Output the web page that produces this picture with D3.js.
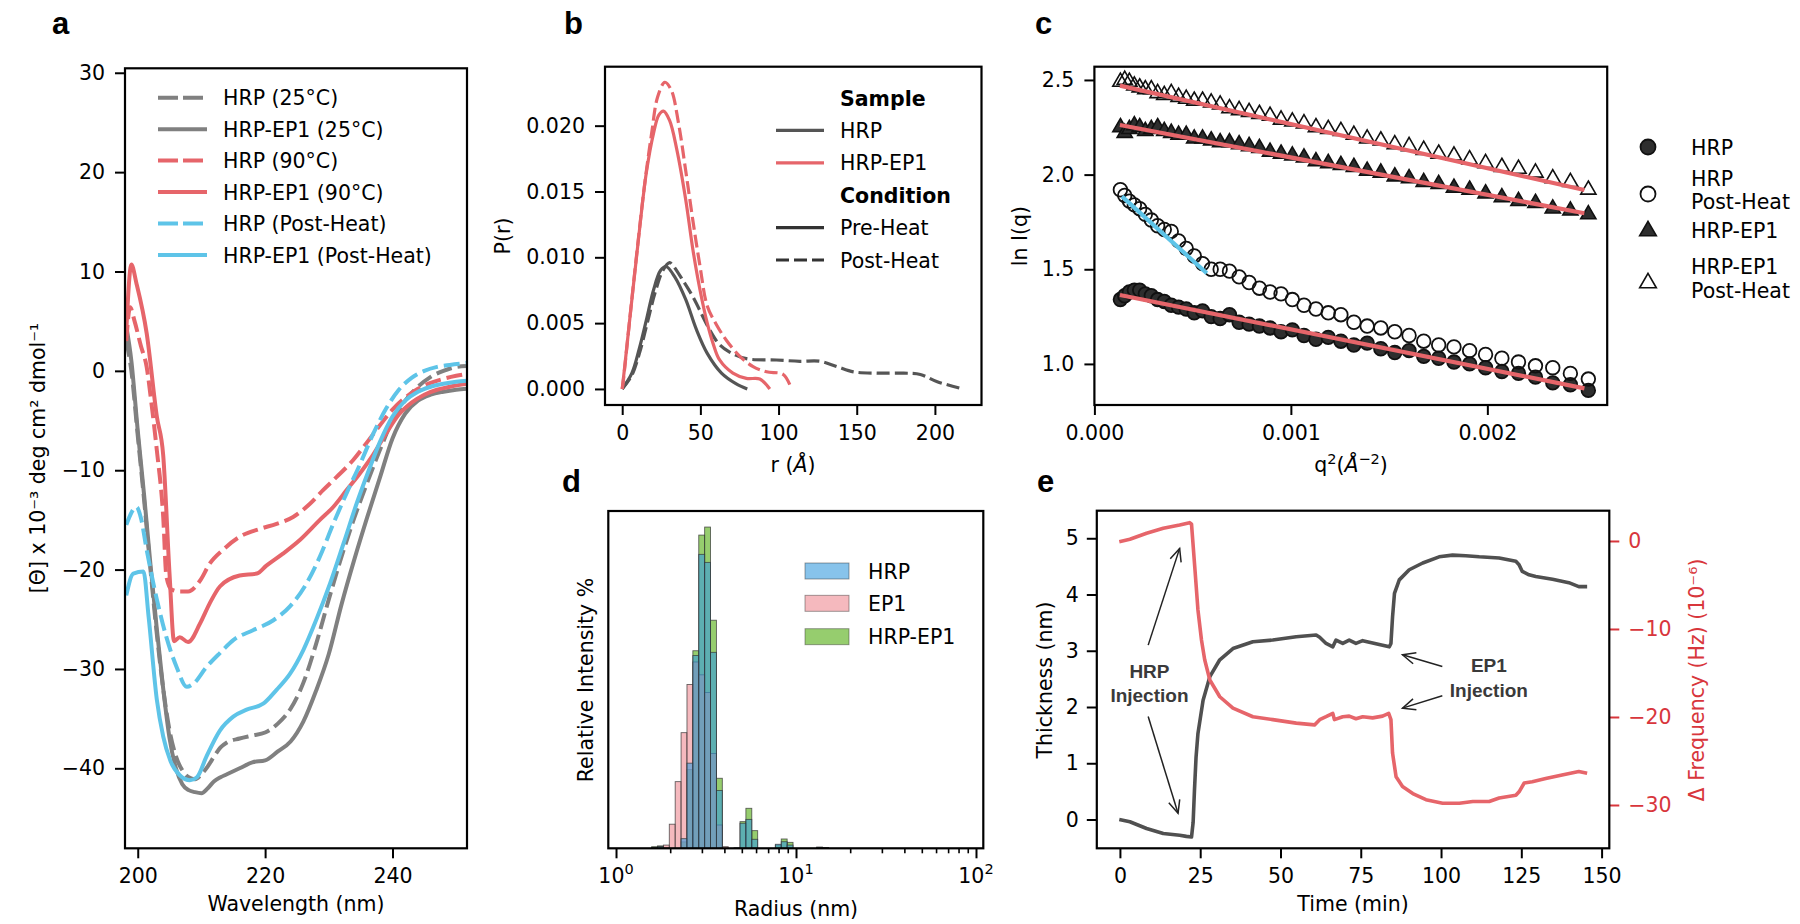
<!DOCTYPE html>
<html><head><meta charset="utf-8">
<script src="https://cdn.jsdelivr.net/npm/d3@7"></script>
<style>
body{margin:0;background:#fff;}
svg{display:block;}
</style></head><body>
<svg id="fig" width="1800" height="924"></svg>
<script>
// ================= DATA =================
// Panel a: CD spectra [wavelength nm, [Θ] x10^-3]
const cdHRP25 = [[198.2,3],[199,0],[200,-6.5],[201,-13],[202,-20],[203,-26.5],[204,-32],[205,-36.2],[206,-38.8],[207,-40.2],[208,-40.9],[209,-41.1],[210,-40.6],[211,-39.8],[212,-38.8],[213,-37.9],[214,-37.4],[216,-37.0],[218,-36.7],[220,-36.4],[222,-35.5],[224,-34.0],[226,-31.4],[228,-27.5],[230,-23],[232,-18.7],[234,-14.8],[236,-11.3],[238,-8.0],[240,-5.0],[242,-3.0],[244,-1.6],[246,-0.6],[248,0],[250,0.4],[251.7,0.5]];
const cdEP125 = [[198.2,4.5],[199,1],[200,-6],[201,-12.5],[202,-19.5],[203,-26],[204,-32],[205,-37],[206,-40],[207,-41.6],[208,-42.2],[209,-42.4],[210,-42.5],[211,-42],[212,-41.3],[213,-40.9],[214,-40.6],[216,-40],[218,-39.4],[220,-39.2],[222,-38.3],[224,-37.3],[226,-35.3],[228,-32.2],[230,-28.5],[232,-23.5],[234,-19],[236,-14.8],[238,-10.8],[240,-6.8],[242,-4.3],[244,-3.0],[246,-2.4],[248,-2.1],[250,-1.9],[251.7,-1.8]];
const cdHRP90 = [[198.2,3],[198.8,6.4],[199.5,5],[200.5,2.5],[201.4,0.4],[202.2,-3.5],[203,-8],[204,-14.7],[204.5,-20.7],[205.3,-22],[206.6,-22.2],[207.9,-22.2],[209.8,-21.1],[211.3,-19.4],[213.4,-18.0],[216,-16.7],[219.2,-15.9],[221.8,-15.4],[224.4,-14.7],[227,-13.4],[229.1,-12],[231.2,-10.7],[233.8,-9],[236,-7.2],[238,-5.5],[240,-3.9],[242,-2.7],[244,-1.8],[246,-1.2],[248,-0.8],[250,-0.5],[251.7,-0.3]];
const cdEP190 = [[198.2,4],[199,10.7],[199.8,8.8],[201.4,3.8],[203,-4.6],[204,-8.5],[205,-20.5],[205.7,-27.2],[206.6,-26.8],[207.9,-27.3],[209.8,-25.4],[211.3,-23.4],[212.9,-21.7],[216,-20.6],[218.7,-20.4],[220.2,-19.6],[222.8,-18.4],[225.5,-17],[228.6,-15],[230.7,-13.7],[232.8,-12],[234.9,-10.3],[237,-8.4],[239,-6.3],[241,-4.4],[243,-3.2],[245,-2.4],[247,-1.9],[249,-1.6],[251.7,-1.3]];
const cdHRPPH = [[198.2,-15.5],[198.5,-15],[199.8,-13.7],[200.5,-14.8],[201.4,-18],[203,-23],[204.5,-26.8],[206.1,-29.8],[207.7,-31.8],[208.7,-31.5],[210.8,-29.8],[212.9,-28.4],[215,-27.1],[218.1,-26.1],[221.3,-25.1],[223.9,-23.7],[226.5,-21.4],[228.6,-18.7],[230.7,-15.4],[232.8,-12.3],[234.9,-9.4],[237,-6.3],[239,-3.8],[241,-1.9],[243,-0.7],[245,0.0],[247,0.4],[249,0.6],[251.7,0.8]];
const cdEP1PH = [[198.2,-22.6],[199.3,-20.4],[200.9,-20.2],[201.7,-24.7],[203,-33.1],[204,-36.8],[205.1,-39.2],[206.6,-40.7],[208.2,-41.2],[209.3,-40.9],[210.8,-38.8],[212.9,-36.2],[215,-34.8],[217.1,-34.1],[219.7,-33.5],[221.8,-32.1],[223.9,-30.5],[226,-28.1],[228,-25.1],[230.2,-21.4],[232.3,-17.4],[234.4,-13.3],[236.4,-9.8],[238,-7.2],[240,-4.6],[242,-3.0],[244,-2.1],[246,-1.6],[248,-1.3],[250,-1.1],[251.7,-1.0]];
const cdLabels = ["HRP (25°C)","HRP-EP1 (25°C)","HRP (90°C)","HRP-EP1 (90°C)","HRP (Post-Heat)","HRP-EP1 (Post-Heat)"];
const cdTicksX = [200,220,240];
const cdTicksY = [-40,-30,-20,-10,0,10,20,30];

// Panel b: P(r) [r Å, P]
const prHRPPre = [[0,0],[6.2,0.0012],[10.8,0.003],[15.4,0.0052],[20,0.0075],[24.5,0.009],[28,0.0093],[33.7,0.0085],[40.6,0.0068],[47.5,0.0045],[54.4,0.0027],[63.5,0.0012],[72.7,0.0004],[80,0.0]];
const prHRPPost = [[0,0],[6,0.001],[11,0.0027],[16,0.005],[21,0.0073],[26,0.009],[30.3,0.0096],[32.3,0.0094],[38,0.0084],[45.2,0.007],[55.9,0.0045],[62,0.0034],[68.7,0.0028],[79.4,0.0023],[98.7,0.0022],[113.7,0.0021],[126.5,0.0021],[137.3,0.0017],[147.9,0.0013],[162.9,0.0012],[180,0.0012],[190.7,0.0011],[201.5,0.00055],[218,0.0]];
const prEP1Pre = [[0,0],[1.6,0.0017],[6.2,0.0068],[10.8,0.0118],[15.4,0.0164],[20,0.0194],[23.4,0.0208],[26.4,0.0211],[30.3,0.0204],[34.9,0.0182],[40.6,0.0144],[45.2,0.0106],[49.8,0.0075],[54.4,0.005],[58,0.0035],[62.3,0.0022],[70.8,0.0012],[79.4,0.0008],[88,0.00075],[94.4,0.0]];
const prEP1Post = [[0,0],[0.5,0.0004],[5,0.0055],[9.6,0.0106],[14.2,0.0154],[18.8,0.0194],[22.7,0.0222],[27.3,0.0233],[31.4,0.0227],[36,0.0202],[40.6,0.0166],[45.2,0.0128],[49.8,0.0093],[54.4,0.0063],[60.2,0.0049],[66.6,0.0037],[75.1,0.0025],[83.7,0.0017],[92.3,0.0013],[103,0.0011],[108.3,0.0]];
const prTicksX = [0,50,100,150,200];
const prTicksY = [0,0.005,0.010,0.015,0.020];

// Panel c: Guinier plot
const q2 = [0.0001323,0.0001543,0.0001780,0.0002033,0.0002304,0.0002592,0.0002897,0.0003218,0.0003557,0.0003912,0.0004285,0.0004674,0.0005081,0.0005504,0.0005944,0.0006401,0.0006875,0.0007366,0.0007874,0.0008398,0.0008940,0.0009499,0.0010074,0.0010667,0.0011276,0.0011903,0.0012546,0.0013206,0.0013883,0.0014577,0.0015288,0.0016016,0.0016761,0.0017523,0.0018301,0.0019097,0.0019909,0.0020739,0.0021585,0.0022449,0.0023329,0.0024226,0.0025140];
const lnHRP = [1.34,1.36,1.38,1.39,1.39,1.37,1.36,1.34,1.33,1.31,1.30,1.29,1.27,1.28,1.25,1.24,1.26,1.22,1.21,1.20,1.19,1.17,1.18,1.15,1.13,1.14,1.12,1.10,1.11,1.08,1.06,1.07,1.04,1.03,1.01,1.00,0.98,0.96,0.95,0.93,0.90,0.89,0.86];
const lnHRPPost = [1.92,1.89,1.86,1.84,1.82,1.79,1.76,1.73,1.71,1.70,1.65,1.61,1.57,1.53,1.50,1.50,1.49,1.46,1.43,1.40,1.38,1.37,1.34,1.31,1.29,1.27,1.26,1.22,1.20,1.19,1.17,1.15,1.12,1.10,1.09,1.07,1.05,1.03,1.01,0.99,0.98,0.95,0.92];
const lnEP1 = [2.25,2.22,2.24,2.26,2.25,2.23,2.24,2.25,2.23,2.22,2.21,2.21,2.19,2.19,2.18,2.17,2.17,2.16,2.15,2.14,2.12,2.11,2.10,2.09,2.07,2.06,2.05,2.04,2.02,2.01,1.99,1.98,1.96,1.95,1.93,1.92,1.90,1.88,1.86,1.85,1.82,1.81,1.79];
const lnEP1Post = [2.49,2.50,2.49,2.47,2.46,2.45,2.45,2.43,2.42,2.43,2.41,2.40,2.39,2.39,2.38,2.37,2.35,2.34,2.33,2.32,2.31,2.29,2.28,2.27,2.25,2.24,2.23,2.21,2.19,2.18,2.16,2.15,2.13,2.11,2.10,2.08,2.06,2.04,2.03,2.01,1.98,1.96,1.92];
const fitHRP = [[0.00013,1.364],[0.002494,0.871]];
const fitEP1 = [[0.00013,2.262],[0.002494,1.796]];
const fitEP1Post = [[0.00013,2.470],[0.002494,1.919]];
const fitHRPPost = [[0.000140,1.885],[0.000572,1.479]];
const gTicksX = [0.000,0.001,0.002];
const gTicksY = [1.0,1.5,2.0,2.5];

// Panel d: DLS histogram (bin edges in nm, relative intensity %)
const binEdges = [1.5769,1.7003,1.8334,1.9770,2.1318,2.2987,2.4787,2.6727,2.8820,3.1076,3.3510,3.6133,3.8962,4.2013,4.5302,4.8849,5.2674,5.6798,6.1245,6.6040,7.1211,7.6787,8.2799,8.9282,9.6272,10.381,11.194,12.070,13.015,14.034,15.183,16.362];
const histHRP = [0.05,0.1,0,0,0,0.6,5.3,12.0,18.3,17.8,12.2,3.6,0,0,0.02,1.56,1.8,0.56,0,0,0,0.25,0.41,0.2,0,0,0,0,0.05,0.03,0];
const histEP1 = [0,0.1,0.2,1.5,4.15,7.2,10.2,11.6,10.8,9.7,5.9,1.45,0.1,0,0,0,0,0,0,0,0,0,0,0,0,0,0,0,0,0,0];
const histHRPEP1 = [0.1,0.15,0.05,0,0,0.4,4.9,12.3,19.5,20.0,14.2,4.36,0,0,0.02,1.66,2.49,1.1,0,0,0,0.2,0.58,0.37,0,0,0,0,0.08,0.05,0];
const dlsLabels = ["HRP","EP1","HRP-EP1"];

// Panel e: QCM-D [time min, value]
const thickness = [[-0.2,0.0],[3.1,-0.04],[8.3,-0.16],[13.5,-0.25],[18.6,-0.28],[20.7,-0.30],[22.3,-0.31],[22.8,-0.05],[23.2,0.5],[23.7,1.1],[24.3,1.53],[25.9,2.12],[28,2.54],[31.1,2.84],[35.2,3.04],[41.4,3.16],[47.6,3.19],[54.9,3.25],[61.1,3.28],[62.2,3.24],[64.2,3.13],[66.3,3.07],[67.3,3.19],[69.4,3.13],[71.4,3.19],[73.5,3.13],[75.6,3.18],[78.7,3.14],[81.8,3.10],[83.9,3.07],[84.4,3.13],[84.9,3.6],[85.5,4.02],[87,4.26],[90.1,4.44],[94.3,4.56],[99.4,4.67],[103.6,4.70],[107.7,4.69],[111.9,4.67],[118.1,4.65],[123.3,4.59],[124.3,4.53],[125.3,4.41],[127.4,4.35],[129.5,4.32],[134.7,4.27],[139.8,4.21],[142.9,4.14],[145.5,4.14]];
const dFreq = [[-0.2,-0.08],[3.1,0.19],[8.3,0.87],[13.5,1.44],[18.6,1.82],[21.7,2.08],[22.3,1.9],[23.3,-2.92],[24.3,-7.84],[25.4,-11.25],[26.4,-13.5],[28,-15.8],[31.1,-17.7],[35.2,-19.0],[41.4,-19.97],[47.6,-20.3],[54.9,-20.7],[60.6,-20.9],[62.2,-20.3],[64.2,-19.97],[66.3,-19.6],[66.8,-20.3],[69.4,-19.97],[71.4,-19.9],[73.5,-20.2],[75.6,-19.97],[78.7,-20.1],[81.8,-19.9],[83.7,-19.6],[84.4,-20.3],[84.9,-24.1],[86,-26.8],[88,-27.9],[91.2,-28.7],[95.3,-29.4],[100.5,-29.8],[105.7,-29.8],[109.9,-29.6],[115,-29.6],[118.1,-29.2],[123.3,-28.9],[124.3,-28.5],[125.9,-27.5],[128.4,-27.35],[132.6,-27.0],[137.7,-26.6],[142.9,-26.2],[145.5,-26.4]];
const qTicksX = [0,25,50,75,100,125,150];
const qTicksL = [0,1,2,3,4,5];
const qTicksR = [0,-10,-20,-30];

// ================= DRAWING =================
const svg = d3.select("#fig");
const FONT = "'DejaVu Sans', sans-serif";
const FS = 20.5;
const RED = "#e6656a", GRAY = "#808080", BLUE = "#5ec4e8", DARK = "#555555";
const TXTRED = "#d8363c";
svg.append("rect").attr("width",1800).attr("height",924).attr("fill","#fff");
const defs = svg.append("defs");

function clipRect(id,x0,y0,x1,y1){
  defs.append("clipPath").attr("id",id).append("rect").attr("x",x0).attr("y",y0).attr("width",x1-x0).attr("height",y1-y0);
  return `url(#${id})`;
}
function frame(x0,y0,x1,y1){
  svg.append("rect").attr("x",x0).attr("y",y0).attr("width",x1-x0).attr("height",y1-y0)
    .attr("fill","none").attr("stroke","#000").attr("stroke-width",2.2);
}
function styleAxis(g,color){
  color = color || "#000";
  g.attr("font-family",FONT).attr("font-size",FS);
  g.select(".domain").remove();
  g.selectAll(".tick line").attr("stroke",color).attr("stroke-width",2);
  g.selectAll(".tick text").attr("fill",color);
  return g;
}
function text(x,y,s,opts){
  opts = opts||{};
  const t = svg.append("text").attr("x",x).attr("y",y).text(s)
    .attr("font-family",opts.family||FONT).attr("font-size",opts.size||FS)
    .attr("fill",opts.fill||"#000").attr("text-anchor",opts.anchor||"start");
  if(opts.weight) t.attr("font-weight",opts.weight);
  if(opts.rotate) t.attr("transform",`rotate(-90,${x},${y})`);
  return t;
}
function panelLabel(x,y,s){ text(x,y,s,{family:"'Liberation Sans', Arial, sans-serif",size:31,weight:700}); }

// ---------- Panel a ----------
{
  const A = {x0:125,x1:467,y0:68.3,y1:848.3};
  const x = d3.scaleLinear().domain([198.0,251.7]).range([A.x0,A.x1]);
  const y = d3.scaleLinear().domain([-48.05,30.45]).range([A.y1,A.y0]);
  const cp = clipRect("clipA",A.x0,A.y0,A.x1,A.y1);
  const line = d3.line().x(d=>x(d[0])).y(d=>y(d[1])).curve(d3.curveMonotoneX);
  const series = [
    {d:cdHRP25,c:GRAY,dash:"16,6"},{d:cdEP125,c:GRAY,dash:null},
    {d:cdHRP90,c:RED,dash:"16,6"},{d:cdEP190,c:RED,dash:null},
    {d:cdHRPPH,c:BLUE,dash:"16,6"},{d:cdEP1PH,c:BLUE,dash:null}];
  const g = svg.append("g").attr("clip-path",cp);
  series.forEach(s=>{
    g.append("path").attr("d",line(s.d)).attr("fill","none").attr("stroke",s.c)
      .attr("stroke-width",4).attr("stroke-dasharray",s.dash).attr("stroke-linejoin","round");
  });
  styleAxis(svg.append("g").attr("transform",`translate(0,${A.y1})`)
    .call(d3.axisBottom(x).tickValues(cdTicksX).tickSize(10).tickPadding(10).tickFormat(d3.format("d"))));
  styleAxis(svg.append("g").attr("transform",`translate(${A.x0},0)`)
    .call(d3.axisLeft(y).tickValues(cdTicksY).tickSize(10).tickPadding(10).tickFormat(d3.format("d"))));
  frame(A.x0,A.y0,A.x1,A.y1);
  series.forEach((s,i)=>{
    const yy = 97.7 + i*31.46;
    svg.append("line").attr("x1",158).attr("x2",207).attr("y1",yy).attr("y2",yy)
      .attr("stroke",s.c).attr("stroke-width",4).attr("stroke-dasharray",s.dash?"20,5":null);
    text(223,yy+7.5,cdLabels[i]);
  });
  text(296,911,"Wavelength (nm)",{anchor:"middle"});
  text(45,458,"[Θ] x 10⁻³ deg cm² dmol⁻¹",{anchor:"middle",rotate:true});
  panelLabel(52,34,"a");
}

// ---------- Panel b ----------
{
  const B = {x0:605,x1:981.5,y0:66.7,y1:405};
  const x = d3.scaleLinear().domain([-11,229.8]).range([B.x0,B.x1]);
  const y = d3.scaleLinear().domain([-0.00122,0.02448]).range([B.y1,B.y0]);
  const cp = clipRect("clipB",B.x0,B.y0,B.x1,B.y1);
  const line = d3.line().x(d=>x(d[0])).y(d=>y(d[1])).curve(d3.curveCatmullRom.alpha(0.5));
  const g = svg.append("g").attr("clip-path",cp);
  [{d:prHRPPre,c:DARK,dash:null},{d:prHRPPost,c:DARK,dash:"13,5"},
   {d:prEP1Pre,c:RED,dash:null},{d:prEP1Post,c:RED,dash:"13,5"}].forEach(s=>{
    g.append("path").attr("d",line(s.d)).attr("fill","none").attr("stroke",s.c)
      .attr("stroke-width",3.2).attr("stroke-dasharray",s.dash).attr("stroke-linejoin","round");
  });
  styleAxis(svg.append("g").attr("transform",`translate(0,${B.y1})`)
    .call(d3.axisBottom(x).tickValues(prTicksX).tickSize(10).tickPadding(10).tickFormat(d3.format("d"))));
  styleAxis(svg.append("g").attr("transform",`translate(${B.x0},0)`)
    .call(d3.axisLeft(y).tickValues(prTicksY).tickSize(10).tickPadding(10).tickFormat(d3.format(".3f"))));
  frame(B.x0,B.y0,B.x1,B.y1);
  const leg = [
    {t:"Sample",bold:true},{t:"HRP",c:DARK},{t:"HRP-EP1",c:RED},
    {t:"Condition",bold:true},{t:"Pre-Heat",c:"#333"},{t:"Post-Heat",c:"#333",dash:"13,5"}];
  leg.forEach((l,i)=>{
    const yy = 98 + i*32.4;
    if(!l.bold){
      svg.append("line").attr("x1",776).attr("x2",824).attr("y1",yy).attr("y2",yy)
        .attr("stroke",l.c).attr("stroke-width",3.2).attr("stroke-dasharray",l.dash||null);
    }
    text(840,yy+7.5,l.t,{weight:l.bold?"bold":null});
  });
  const xl = text(793,472,"r (",{anchor:"middle"});
  xl.append("tspan").attr("font-style","italic").text("Å");
  xl.append("tspan").text(")");
  text(510,236,"P(r)",{anchor:"middle",rotate:true});
  panelLabel(564,34,"b");
}

// ---------- Panel c ----------
{
  const C = {x0:1094.4,x1:1607.2,y0:66.7,y1:405};
  const x = d3.scaleLinear().domain([0,0.00261]).range([C.x0,C.x1]);
  const y = d3.scaleLinear().domain([0.783,2.570]).range([C.y1,C.y0]);
  const cp = clipRect("clipC",C.x0,C.y0,C.x1,C.y1);
  const g = svg.append("g").attr("clip-path",cp);
  const tri = d3.symbol().type(d3.symbolTriangle).size(100);
  const circ = (arr,fill)=>g.selectAll(null).data(q2.map((q,i)=>[q,arr[i]])).enter().append("circle")
      .attr("cx",d=>x(d[0])).attr("cy",d=>y(d[1])).attr("r",6.8)
      .attr("fill",fill).attr("stroke","#111").attr("stroke-width",1.8);
  const tris = (arr,fill)=>g.selectAll(null).data(q2.map((q,i)=>[q,arr[i]])).enter().append("path")
      .attr("d",tri).attr("transform",d=>`translate(${x(d[0])},${y(d[1])})`)
      .attr("fill",fill).attr("stroke","#111").attr("stroke-width",1.6);
  circ(lnHRP,"#2e2e2e");
  circ(lnHRPPost,"none");
  tris(lnEP1,"#2e2e2e");
  tris(lnEP1Post,"none");
  const line = d3.line().x(d=>x(d[0])).y(d=>y(d[1]));
  [fitHRP,fitEP1,fitEP1Post].forEach(f=>g.append("path").attr("d",line(f)).attr("stroke",RED).attr("stroke-width",4.2).attr("fill","none"));
  g.append("path").attr("d",line(fitHRPPost)).attr("stroke",BLUE).attr("stroke-width",4.2).attr("fill","none");
  styleAxis(svg.append("g").attr("transform",`translate(0,${C.y1})`)
    .call(d3.axisBottom(x).tickValues(gTicksX).tickSize(10).tickPadding(10).tickFormat(d3.format(".3f"))));
  styleAxis(svg.append("g").attr("transform",`translate(${C.x0},0)`)
    .call(d3.axisLeft(y).tickValues(gTicksY).tickSize(10).tickPadding(10).tickFormat(d3.format(".1f"))));
  frame(C.x0,C.y0,C.x1,C.y1);
  const lx = 1648, tx = 1691;
  svg.append("circle").attr("cx",lx).attr("cy",147).attr("r",7.5).attr("fill","#2e2e2e").attr("stroke","#111").attr("stroke-width",1.8);
  text(tx,147+7.5,"HRP");
  svg.append("circle").attr("cx",lx).attr("cy",194).attr("r",7.5).attr("fill","none").attr("stroke","#111").attr("stroke-width",1.8);
  text(tx,178+7.5,"HRP"); text(tx,201.5+7.5,"Post-Heat");
  const tri2 = d3.symbol().type(d3.symbolTriangle).size(120);
  svg.append("path").attr("d",tri2).attr("transform",`translate(${lx},231)`).attr("fill","#2e2e2e").attr("stroke","#111").attr("stroke-width",1.6);
  text(tx,230+7.5,"HRP-EP1");
  svg.append("path").attr("d",tri2).attr("transform",`translate(${lx},283)`).attr("fill","none").attr("stroke","#111").attr("stroke-width",1.6);
  text(tx,266.5+7.5,"HRP-EP1"); text(tx,290+7.5,"Post-Heat");
  const xl = text(1351,472,"q",{anchor:"middle"});
  xl.append("tspan").attr("font-size",14.5).attr("dy",-8).text("2");
  xl.append("tspan").attr("dy",8).text("(");
  xl.append("tspan").attr("font-style","italic").text("Å");
  xl.append("tspan").attr("font-size",14.5).attr("dy",-8).text("−2");
  xl.append("tspan").attr("dy",8).text(")");
  text(1027,236,"ln I(q)",{anchor:"middle",rotate:true});
  panelLabel(1035,34,"c");
}

// ---------- Panel d ----------
{
  const D = {x0:608.3,x1:983.3,y0:511,y1:848.3};
  const x = d3.scaleLog().domain([0.906,109.8]).range([D.x0,D.x1]);
  const y = d3.scaleLinear().domain([0,21]).range([D.y1,D.y0]);
  const cp = clipRect("clipD",D.x0,D.y0,D.x1,D.y1);
  const g = svg.append("g").attr("clip-path",cp);
  const layers = [
    {v:histHRPEP1,c:"#50ac0d"},{v:histEP1,c:"#ee8a93"},{v:histHRP,c:"#379bde"}];
  layers.forEach(L=>{
    L.v.forEach((v,i)=>{
      if(v<=0) return;
      g.append("rect").attr("x",x(binEdges[i])).attr("width",x(binEdges[i+1])-x(binEdges[i]))
        .attr("y",y(v)).attr("height",y(0)-y(v))
        .attr("fill",L.c).attr("fill-opacity",0.6)
        .attr("stroke","#333").attr("stroke-opacity",0.75).attr("stroke-width",0.9);
    });
  });
  const majors = [1,10,100], minors=[];
  [1,10].forEach(b=>{for(let m=2;m<=9;m++) minors.push(b*m);});
  const gx = svg.append("g").attr("transform",`translate(0,${D.y1})`)
    .call(d3.axisBottom(x).tickValues(majors).tickSize(10).tickPadding(10).tickFormat(""));
  styleAxis(gx);
  const gm = svg.append("g").attr("transform",`translate(0,${D.y1})`)
    .call(d3.axisBottom(x).tickValues(minors).tickSize(5).tickFormat(""));
  styleAxis(gm); gm.selectAll(".tick line").attr("stroke-width",1.6);
  majors.forEach((m,i)=>{
    const t = text(x(m),883,"10",{anchor:"middle"});
    t.append("tspan").attr("font-size",14.5).attr("dy",-9).text(String(i));
  });
  frame(D.x0,D.y0,D.x1,D.y1);
  const legc = ["#379bde","#ee8a93","#50ac0d"];
  [571,603.3,636.7].forEach((yy,i)=>{
    svg.append("rect").attr("x",805).attr("y",yy-8).attr("width",44).attr("height",16)
      .attr("fill",legc[i]).attr("fill-opacity",0.6).attr("stroke","#333").attr("stroke-opacity",0.5).attr("stroke-width",0.9);
    text(868,yy+7.5,dlsLabels[i]);
  });
  text(796,916,"Radius (nm)",{anchor:"middle"});
  text(593,680,"Relative Intensity %",{anchor:"middle",rotate:true});
  panelLabel(562,492,"d");
}

// ---------- Panel e ----------
{
  const E = {x0:1096.8,x1:1609.3,y0:510.7,y1:848.3};
  const x = d3.scaleLinear().domain([-7.2,152.4]).range([E.x0,E.x1]);
  const yl = d3.scaleLinear().domain([-0.512,5.49]).range([E.y1,E.y0]);
  const yr = d3.scaleLinear().domain([-34.92,3.44]).range([E.y1,E.y0]);
  const cp = clipRect("clipE",E.x0,E.y0,E.x1,E.y1);
  const g = svg.append("g").attr("clip-path",cp);
  g.append("path").attr("d",d3.line().x(d=>x(d[0])).y(d=>yl(d[1]))(thickness))
    .attr("fill","none").attr("stroke","#505050").attr("stroke-width",3.6).attr("stroke-linejoin","round");
  g.append("path").attr("d",d3.line().x(d=>x(d[0])).y(d=>yr(d[1]))(dFreq))
    .attr("fill","none").attr("stroke",RED).attr("stroke-width",3.6).attr("stroke-linejoin","round");
  styleAxis(svg.append("g").attr("transform",`translate(0,${E.y1})`)
    .call(d3.axisBottom(x).tickValues(qTicksX).tickSize(10).tickPadding(10).tickFormat(d3.format("d"))));
  styleAxis(svg.append("g").attr("transform",`translate(${E.x0},0)`)
    .call(d3.axisLeft(yl).tickValues(qTicksL).tickSize(10).tickPadding(8).tickFormat(d3.format("d"))));
  styleAxis(svg.append("g").attr("transform",`translate(${E.x1},0)`)
    .call(d3.axisRight(yr).tickValues(qTicksR).tickSize(10).tickPadding(9).tickFormat(d3.format("d"))), TXTRED);
  frame(E.x0,E.y0,E.x1,E.y1);
  function arrow(t1,v1,t2,v2){
    const X1=x(t1),Y1=yl(v1),X2=x(t2),Y2=yl(v2);
    const a = Math.atan2(Y2-Y1,X2-X1), L=14, s=0.42;
    svg.append("line").attr("x1",X1).attr("y1",Y1).attr("x2",X2).attr("y2",Y2).attr("stroke","#222").attr("stroke-width",1.5);
    svg.append("path").attr("d",`M${X2-L*Math.cos(a-s)},${Y2-L*Math.sin(a-s)}L${X2},${Y2}L${X2-L*Math.cos(a+s)},${Y2-L*Math.sin(a+s)}`)
      .attr("fill","none").attr("stroke","#222").attr("stroke-width",1.5);
  }
  arrow(8.8,3.10,18.6,4.82);
  arrow(8.8,1.83,18.1,0.11);
  arrow(100.4,2.72,88.0,2.93);
  arrow(100.4,2.20,88.0,1.98);
  const AF = {family:"'Liberation Sans', Arial, sans-serif",size:19,weight:"bold",fill:"#3a3a3a",anchor:"middle"};
  text(x(9.2),yl(2.51),"HRP",AF);
  text(x(9.2),yl(2.51)+23.4,"Injection",AF);
  text(x(114.9),yl(2.63),"EP1",AF);
  text(x(114.9),yl(2.63)+25,"Injection",AF);
  text(1353,911,"Time (min)",{anchor:"middle"});
  text(1052,680,"Thickness (nm)",{anchor:"middle",rotate:true});
  text(1704,680,"Δ Frequency (Hz) (10⁻⁶)",{anchor:"middle",rotate:true,fill:TXTRED});
  panelLabel(1037,492,"e");
}
</script></body></html>
